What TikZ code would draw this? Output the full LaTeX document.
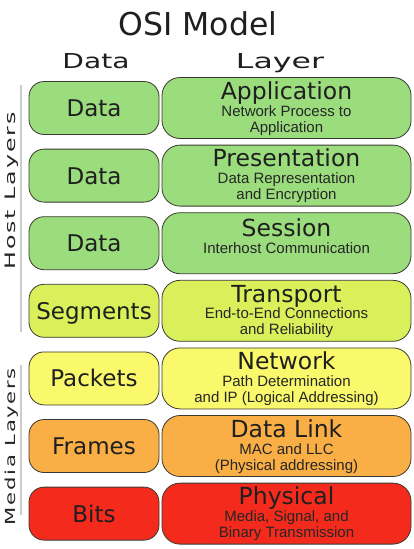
\documentclass[tikz,border=0pt]{standalone}
\usepackage{fontspec}
\usepackage{graphicx}
\setmainfont{DejaVu Sans}
\newfontfamily\subfont{Liberation Sans}
\newfontfamily\sidefont[LetterSpace=8]{DejaVu Sans}
\definecolor{cgreen}{HTML}{9BDC7D}
\definecolor{ctrans}{HTML}{DAF05A}
\definecolor{cnet}{HTML}{F9F96B}
\definecolor{clink}{HTML}{F9AF45}
\definecolor{cphys}{HTML}{F42A1C}
\definecolor{cedge}{HTML}{3A3A30}
\begin{document}
\begin{tikzpicture}[x=1pt,y=-1pt,
  leftbox/.style={draw=cedge, line width=0.8pt, rounded corners=15pt, minimum width=130pt, minimum height=53pt, inner sep=0pt},
  rightbox/.style={draw=cedge, line width=0.8pt, rounded corners=18pt, minimum width=249pt, minimum height=61pt, inner sep=0pt},
  lbl/.style={anchor=base, font=\fontsize{23}{23}\selectfont, text=black!88, inner sep=0pt},
  ttl/.style={anchor=base, font=\fontsize{23.5}{24}\selectfont, text=black!88, inner sep=0pt},
  sub/.style={anchor=base, font=\subfont\fontsize{15}{16}\selectfont, text=black!85, inner sep=0pt},
  sidelbl/.style={anchor=base, rotate=90, text=black!85, inner sep=0pt},
  sideline/.style={draw=gray!40, line width=1.8pt}
]
\fill[white] (0,0) rectangle (414,549);
\useasboundingbox (0,0) rectangle (414,549);

% title and headers
\node[anchor=base, font=\fontsize{31.5}{32}\selectfont, text=black!88, inner sep=0pt] (title) at (198,35) {OSI Model};
\node[anchor=base, inner sep=0pt, text=black!88] (hdata) at (96,68) {\resizebox{67pt}{15pt}{Data}};
\node[anchor=base, inner sep=0pt, text=black!88] (hlayer) at (280,68) {\resizebox{88pt}{15pt}{Layer}};

% side labels
\coordinate (hostA) at (21,85);
\coordinate (hostB) at (21,332);
\coordinate (mediaA) at (21,365);
\coordinate (mediaB) at (21,515);
\draw[sideline] (hostA) -- (hostB);
\draw[sideline] (mediaA) -- (mediaB);
\node[sidelbl] (hostlbl) at (15,191) {\sidefont\resizebox{157pt}{10.5pt}{Host Layers}};
\node[sidelbl] (medialbl) at (15,446.5) {\sidefont\resizebox{157pt}{10.5pt}{Media Layers}};

% row 1
\node[leftbox, fill=cgreen] (d1) at (94,108) {};
\node[rightbox, fill=cgreen] (l1) at (286.5,108) {};
\node[lbl] (d1t) at (94,116.5) {Data};
\node[ttl] (l1t) at (286.5,99) {Application};
\node[sub] (l1a) at (286.5,116.5) {Network Process to};
\node[sub] (l1b) at (286.5,132.5) {Application};

% row 2
\node[leftbox, fill=cgreen] (d2) at (94,175.6) {};
\node[rightbox, fill=cgreen] (l2) at (286.5,175.6) {};
\node[lbl] (d2t) at (94,184.1) {Data};
\node[ttl] (l2t) at (286.5,166.6) {Presentation};
\node[sub] (l2a) at (286.5,183.1) {Data Representation};
\node[sub] (l2b) at (286.5,199.1) {and Encryption};

% row 3
\node[leftbox, fill=cgreen] (d3) at (94,243.2) {};
\node[rightbox, fill=cgreen] (l3) at (286.5,243.2) {};
\node[lbl] (d3t) at (94,251.7) {Data};
\node[ttl] (l3t) at (286.5,236.5) {Session};
\node[sub] (l3a) at (286.5,253) {Interhost Communication};

% row 4
\node[leftbox, fill=ctrans] (d4) at (94,310.8) {};
\node[rightbox, fill=ctrans] (l4) at (286.5,310.8) {};
\node[lbl] (d4t) at (94,319.3) {Segments};
\node[ttl] (l4t) at (286.5,302.3) {Transport};
\node[sub] (l4a) at (286.5,318.8) {End-to-End Connections};
\node[sub] (l4b) at (286.5,334.8) {and Reliability};

% row 5
\node[leftbox, fill=cnet] (d5) at (94,378.4) {};
\node[rightbox, fill=cnet] (l5) at (286.5,378.4) {};
\node[lbl] (d5t) at (94,386.9) {Packets};
\node[ttl] (l5t) at (286.5,369.9) {Network};
\node[sub] (l5a) at (286.5,386.4) {Path Determination};
\node[sub] (l5b) at (286.5,402.4) {and IP (Logical Addressing)};

% row 6
\node[leftbox, fill=clink] (d6) at (94,446) {};
\node[rightbox, fill=clink] (l6) at (286.5,446) {};
\node[lbl] (d6t) at (94,454.5) {Frames};
\node[ttl] (l6t) at (286.5,437.5) {Data Link};
\node[sub] (l6a) at (286.5,454) {MAC and LLC};
\node[sub] (l6b) at (286.5,470) {(Physical addressing)};

% row 7
\node[leftbox, fill=cphys] (d7) at (94,513.6) {};
\node[rightbox, fill=cphys] (l7) at (286.5,513.6) {};
\node[lbl] (d7t) at (94,522.1) {Bits};
\node[ttl] (l7t) at (286.5,504.1) {Physical};
\node[sub] (l7a) at (286.5,521.6) {Media, Signal, and};
\node[sub] (l7b) at (286.5,537.6) {Binary Transmission};
\end{tikzpicture}
\end{document}
